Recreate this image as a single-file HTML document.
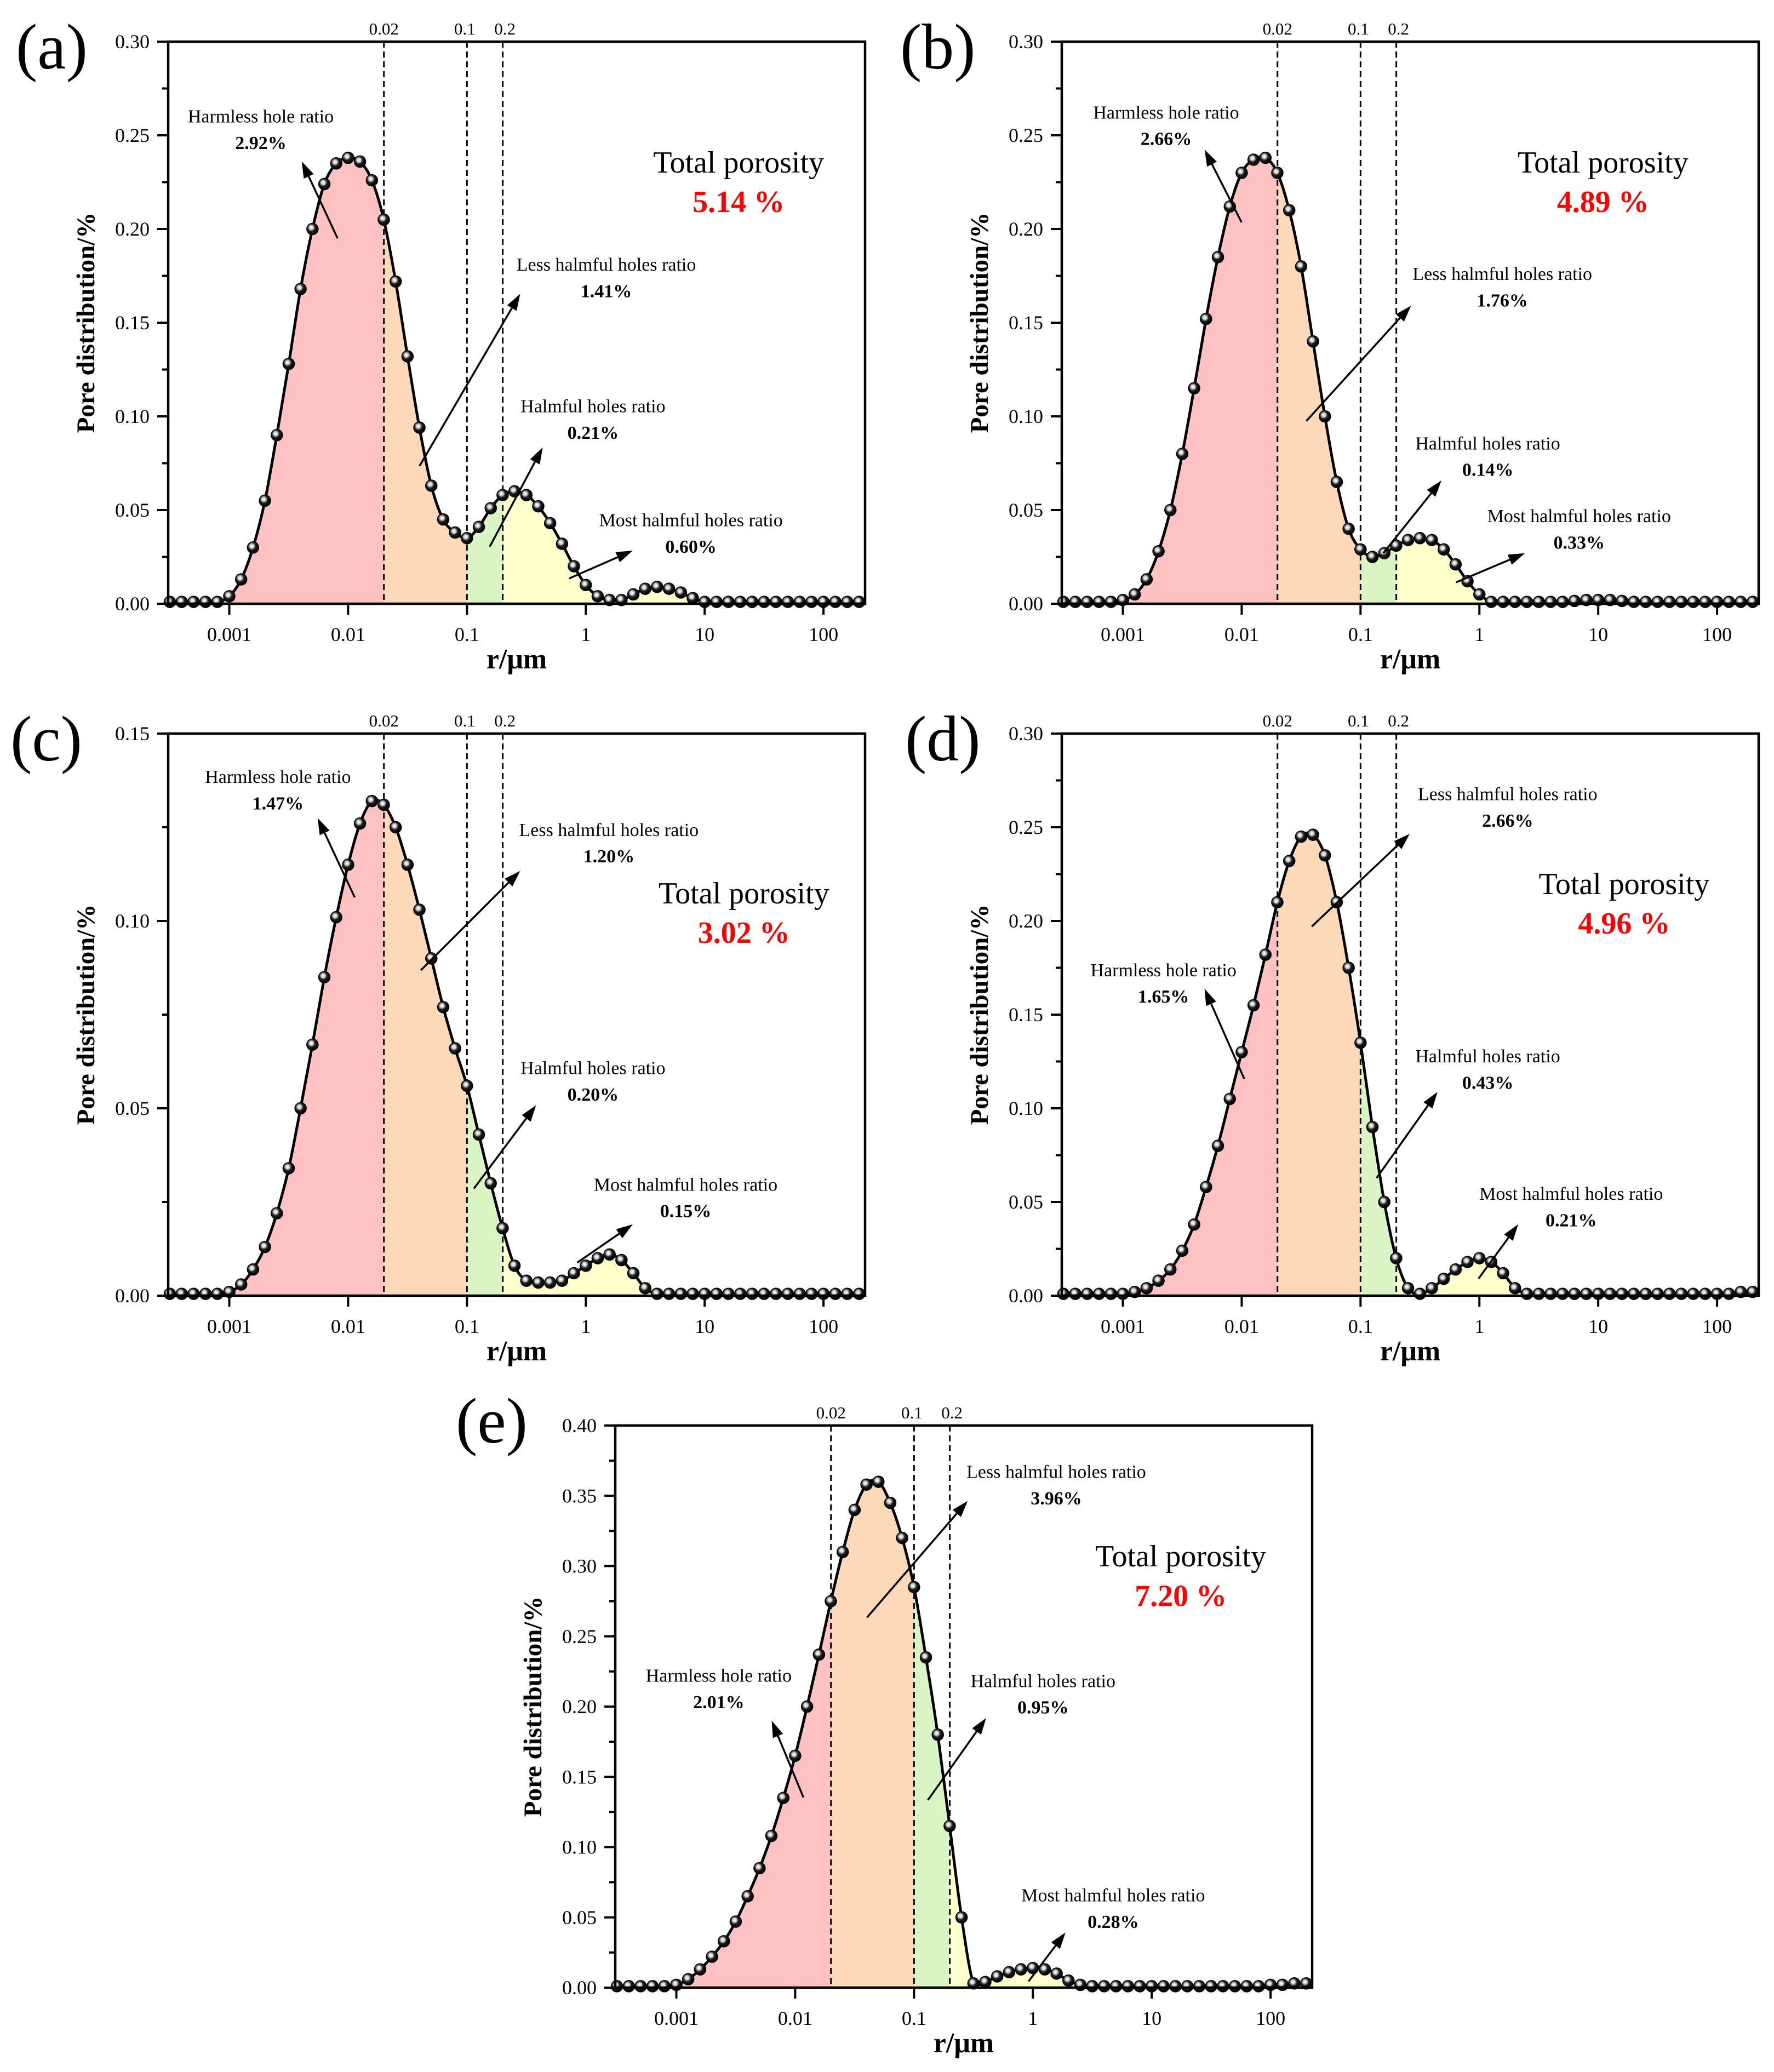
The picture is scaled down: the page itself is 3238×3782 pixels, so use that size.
<!DOCTYPE html>
<html><head><meta charset="utf-8"><style>
html,body{margin:0;padding:0;background:#fff}
svg{display:block;font-family:"Liberation Serif",serif}
text{font-family:"Liberation Serif",serif}
</style></head>
<body>
<svg id="fig" width="3238" height="3782" viewBox="0 0 3238 3782" xmlns="http://www.w3.org/2000/svg" font-family="Liberation Serif, serif">
<defs>
<radialGradient id="ball" cx="0.4" cy="0.38" r="0.6">
<stop offset="0" stop-color="#ffffff"/><stop offset="0.28" stop-color="#d0d0d0"/><stop offset="0.55" stop-color="#202020"/><stop offset="1" stop-color="#000"/>
</radialGradient>
</defs>
</svg>
<script>
// shared x grid: log10(r) from -3.5 to 2.3 step 0.1
const logStart = -3.5;
const logStep = 0.1;
const thresholds = [0.02, 0.1, 0.2];
const thresholdLabels = ["0.02", "0.1", "0.2"];
const xTickValues = [0.001, 0.01, 0.1, 1, 10, 100];
const xTickLabels = ["0.001", "0.01", "0.1", "1", "10", "100"];

const seriesA = [0.001,0.001,0.001,0.001,0.001, 0.004,0.013,0.03,0.055,0.09, 0.128,0.168,0.2,0.224,0.235, 0.238,0.236,0.226,0.205,0.172, 0.132,0.094,0.063,0.045,0.038, 0.035,0.041,0.051,0.058,0.06, 0.058,0.052,0.043,0.032,0.02, 0.01,0.004,0.002,0.002,0.005, 0.008,0.009,0.008,0.006,0.003, 0.001,0.001,0.001,0.001,0.001, 0.001,0.001,0.001,0.001,0.001, 0.001,0.001,0.001,0.001];
const seriesB = [0.001,0.001,0.001,0.001,0.001, 0.002,0.005,0.013,0.028,0.05, 0.08,0.115,0.152,0.185,0.212, 0.23,0.237,0.238,0.23,0.21, 0.18,0.14,0.1,0.065,0.04, 0.029,0.025,0.027,0.031,0.034, 0.035,0.034,0.029,0.021,0.012, 0.005,0.001,0.001,0.001,0.001, 0.001,0.001,0.001,0.0015,0.002, 0.002,0.002,0.0015,0.001,0.001, 0.001,0.001,0.001,0.001,0.001, 0.001,0.001,0.001,0.001];
const seriesC = [0.0005,0.0005,0.0005,0.0005,0.0005, 0.001,0.003,0.007,0.013,0.022, 0.034,0.05,0.067,0.085,0.101, 0.115,0.126,0.132,0.131,0.125, 0.115,0.103,0.09,0.077,0.066, 0.056,0.043,0.03,0.018,0.008, 0.004,0.0035,0.0035,0.004,0.006, 0.008,0.01,0.011,0.0095,0.006, 0.002,0.0005,0.0005,0.0005,0.0005, 0.0005,0.0005,0.0005,0.0005,0.0005, 0.0005,0.0005,0.0005,0.0005,0.0005, 0.0005,0.0005,0.0005,0.0005];
const seriesD = [0.001,0.001,0.001,0.001,0.001, 0.001,0.002,0.004,0.008,0.014, 0.024,0.038,0.058,0.08,0.105, 0.13,0.155,0.182,0.21,0.232, 0.245,0.246,0.235,0.21,0.175, 0.135,0.09,0.05,0.02,0.004, 0.001,0.004,0.009,0.014,0.018, 0.02,0.018,0.012,0.004,0.001, 0.001,0.001,0.001,0.001,0.001, 0.001,0.001,0.001,0.001,0.001, 0.001,0.001,0.001,0.001,0.001, 0.001,0.001,0.002,0.002];
const seriesE = [0.001,0.001,0.001,0.001,0.001, 0.002,0.006,0.013,0.022,0.033, 0.047,0.065,0.085,0.108,0.135, 0.165,0.2,0.237,0.275,0.31, 0.34,0.358,0.36,0.345,0.32, 0.285,0.235,0.18,0.115,0.05, 0.003,0.004,0.008,0.011,0.013, 0.014,0.013,0.01,0.005,0.002, 0.001,0.001,0.001,0.001,0.001, 0.001,0.001,0.001,0.001,0.001, 0.001,0.001,0.001,0.001,0.001, 0.002,0.002,0.003,0.003];

const yMaxes = [0.30, 0.30, 0.15, 0.30, 0.40];
const totalPorosity = ["5.14 %", "4.89 %", "3.02 %", "4.96 %", "7.20 %"];
const harmless = ["2.92%", "2.66%", "1.47%", "1.65%", "2.01%"];
const lessHarmful = ["1.41%", "1.76%", "1.20%", "2.66%", "3.96%"];
const harmful = ["0.21%", "0.14%", "0.20%", "0.43%", "0.95%"];
const mostHarmful = ["0.60%", "0.33%", "0.15%", "0.21%", "0.28%"];

const NS = "http://www.w3.org/2000/svg";
const svg = document.getElementById("fig");
function mk(tag, attrs, parent) {
  const e = document.createElementNS(NS, tag);
  for (const k in attrs) e.setAttribute(k, attrs[k]);
  if (tag === "text") e.setAttribute("font-family", "Liberation Serif, serif");
  (parent || svg).appendChild(e);
  return e;
}
const S = 2.416;
const panels = [
  {id:"a", L:307, T:76, data:seriesA, lbl:[29,125],
   ann:{h:[197,88,255,180,228,122], l:[458,200,317,352,393,222], m:[448,307,370,413,410,338], x:[522,393,430,437,478,416], t:[558,123]}},
  {id:"b", L:1938, T:76, data:seriesB, lbl:[1643,125],
   ann:{h:[881,85,938,168,910,113], l:[1135,207,987,318,1066,231], m:[1124,335,1045,418,1089,363], x:[1193,390,1100,440,1152,418], t:[1211,123]}},
  {id:"c", L:307, T:1339, data:seriesC, lbl:[19,1388],
   ann:{h:[210,587,268,678,240,618], l:[460,627,318,733,393,658], m:[448,807,358,898,405,835], x:[518,895,436,954,478,925], t:[562,675]}},
  {id:"d", L:1938, T:1339, data:seriesD, lbl:[1652,1388],
   ann:{h:[879,733,940,815,910,747], l:[1139,600,991,700,1065,630], m:[1124,798,1040,890,1086,825], x:[1187,902,1117,966,1147,925], t:[1227,668]}},
  {id:"e", L:1123, T:2602, data:seriesE, lbl:[832,2633],
   ann:{h:[543,1266,607,1358,583,1300], l:[798,1112,655,1222,731,1134], m:[788,1270,701,1360,745,1298], x:[841,1432,777,1497,805,1460], t:[892,1176]}}
];
const W = 1272, H = 1026, xMin = -3.514, xMax = 2.35;
const fillCols = ["#ffc2c2", "#fdd9b8", "#d9f5c4", "#ffffcc"];

panels.forEach((p, pi) => {
  const g = mk("g", {});
  
  
  const ymax = yMaxes[pi];
  const X = lv => p.L + (lv - xMin) / (xMax - xMin) * W;
  const Y = v => p.T + H - v / ymax * H;
  const B = p.T + H;
  const pts = p.data.map((v, i) => [X(logStart + i * logStep), Y(v)]);
  let d = "M" + pts[0][0] + "," + pts[0][1];
  for (let i = 0; i < pts.length - 1; i++) {
    const p0 = pts[Math.max(0, i - 1)], p1 = pts[i], p2 = pts[i + 1], p3 = pts[Math.min(pts.length - 1, i + 2)];
    const c1 = [p1[0] + (p2[0] - p0[0]) / 6, p1[1] + (p2[1] - p0[1]) / 6];
    const c2 = [p2[0] - (p3[0] - p1[0]) / 6, p2[1] - (p3[1] - p1[1]) / 6];
    d += " C" + c1[0].toFixed(1) + "," + Math.min(B, c1[1]).toFixed(1) + " " + c2[0].toFixed(1) + "," + Math.min(B, c2[1]).toFixed(1) + " " + p2[0].toFixed(1) + "," + p2[1].toFixed(1);
  }
  const clipId = "clip" + p.id;
  const cp = mk("clipPath", {id: clipId}, g);
  mk("path", {d: d + " L" + pts[pts.length - 1][0] + "," + B + " L" + pts[0][0] + "," + B + " Z"}, cp);
  const bounds = [xMin, Math.log10(thresholds[0]), Math.log10(thresholds[1]), Math.log10(thresholds[2]), xMax];
  const names = ["harmless-region", "less-harmful-region", "harmful-region", "most-harmful-region"];
  for (let k = 0; k < 4; k++) {
    const r = mk("rect", {x: X(bounds[k]), y: p.T, width: X(bounds[k + 1]) - X(bounds[k]), height: H, fill: fillCols[k], "clip-path": "url(#" + clipId + ")"}, g);
    
    
  }
  thresholds.forEach((t, k) => {
    const ln = mk("line", {x1: X(Math.log10(t)), x2: X(Math.log10(t)), y1: p.T, y2: B, stroke: "#000", "stroke-width": 3, "stroke-dasharray": "11,7"}, g);
    
    
    const tx = mk("text", {x: X(Math.log10(t)) + (k === 1 ? -4 : k === 2 ? 4 : 0), y: p.T - 13, "font-size": 31, "text-anchor": "middle"}, g);
    tx.textContent = thresholdLabels[k];
    
    
  });
  const cv = mk("path", {d: d, fill: "none", stroke: "#000", "stroke-width": 5}, g);
  
  
  pts.forEach(q => {
    const c = mk("circle", {cx: q[0], cy: q[1], r: 10.5, fill: "url(#ball)", stroke: "#000", "stroke-width": 1.5}, g);
    
    
  });
  const fr = mk("rect", {x: p.L, y: p.T, width: W, height: H, fill: "none", stroke: "#000", "stroke-width": 4.5}, g);
  
  
  const nMaj = Math.round(ymax / 0.05);
  for (let k = 0; k <= nMaj; k++) {
    const v = k * 0.05, y = Y(v);
    mk("line", {x1: p.L - 20, x2: p.L, y1: y, y2: y, stroke: "#000", "stroke-width": 4}, g);
    const t = mk("text", {x: p.L - 34, y: y + 12, "font-size": 36, "text-anchor": "end"}, g);
    t.textContent = v.toFixed(2);
    
    
    if (k < nMaj) {
      const ym = Y(v + 0.025);
      mk("line", {x1: p.L - 11, x2: p.L, y1: ym, y2: ym, stroke: "#000", "stroke-width": 4}, g);
    }
  }
  xTickValues.forEach((v, k) => {
    const x = X(Math.log10(v));
    mk("line", {x1: x, x2: x, y1: B, y2: B + 20, stroke: "#000", "stroke-width": 4}, g);
    const t = mk("text", {x: x, y: B + 68, "font-size": 36, "text-anchor": "middle"}, g);
    t.textContent = xTickLabels[k];
    
    
  });
  const xt = mk("text", {x: p.L + W / 2, y: B + 118, "font-size": 52, "font-weight": "bold", "text-anchor": "middle"}, g);
  xt.textContent = "r/μm";
  
  
  const yt = mk("text", {x: 0, y: 0, "font-size": 47, "font-weight": "bold", "text-anchor": "middle", transform: "translate(" + (p.L - 135) + "," + (p.T + H / 2) + ") rotate(-90)"}, g);
  yt.textContent = "Pore distribution/%";
  
  
  const pl = mk("text", {x: p.lbl[0], y: p.lbl[1], "font-size": 118}, g);
  pl.textContent = "(" + p.id + ")";
  
  
  const a = p.ann;
  const items = [["h", "Harmless hole ratio", harmless[pi]], ["l", "Less halmful holes ratio", lessHarmful[pi]], ["m", "Halmful holes ratio", harmful[pi]], ["x", "Most halmful holes ratio", mostHarmful[pi]]];
  items.forEach(it => {
    const c = a[it[0]];
    const t1 = mk("text", {x: c[0] * S, y: c[1] * S + 11, "font-size": 34, "text-anchor": "middle"}, g);
    t1.textContent = it[1];
    
    
    const t2 = mk("text", {x: c[0] * S, y: (c[1] + 20) * S + 11, "font-size": 34, "font-weight": "bold", "text-anchor": "middle"}, g);
    t2.textContent = it[2];
    
    
    const x1 = c[2] * S, y1 = c[3] * S, x2 = c[4] * S, y2 = c[5] * S;
    const ang = Math.atan2(y2 - y1, x2 - x1), hl = 30, hw = 10;
    const bx = x2 - hl * Math.cos(ang), by = y2 - hl * Math.sin(ang);
    const ar = mk("line", {x1: x1, y1: y1, x2: bx, y2: by, stroke: "#000", "stroke-width": 3.5}, g);
    
    
    mk("polygon", {points: x2 + "," + y2 + " " + (bx + hw * Math.sin(ang)) + "," + (by - hw * Math.cos(ang)) + " " + (bx - hw * Math.sin(ang)) + "," + (by + hw * Math.cos(ang)), fill: "#000"}, g);
  });
  const tp = mk("text", {x: a.t[0] * S, y: a.t[1] * S + 18, "font-size": 56, "text-anchor": "middle"}, g);
  tp.textContent = "Total porosity";
  
  
  const tv = mk("text", {x: a.t[0] * S, y: (a.t[1] + 29) * S + 20, "font-size": 56, "font-weight": "bold", fill: "#ff0000", "text-anchor": "middle"}, g);
  tv.textContent = totalPorosity[pi];
  
  
});
</script>
</body></html>
